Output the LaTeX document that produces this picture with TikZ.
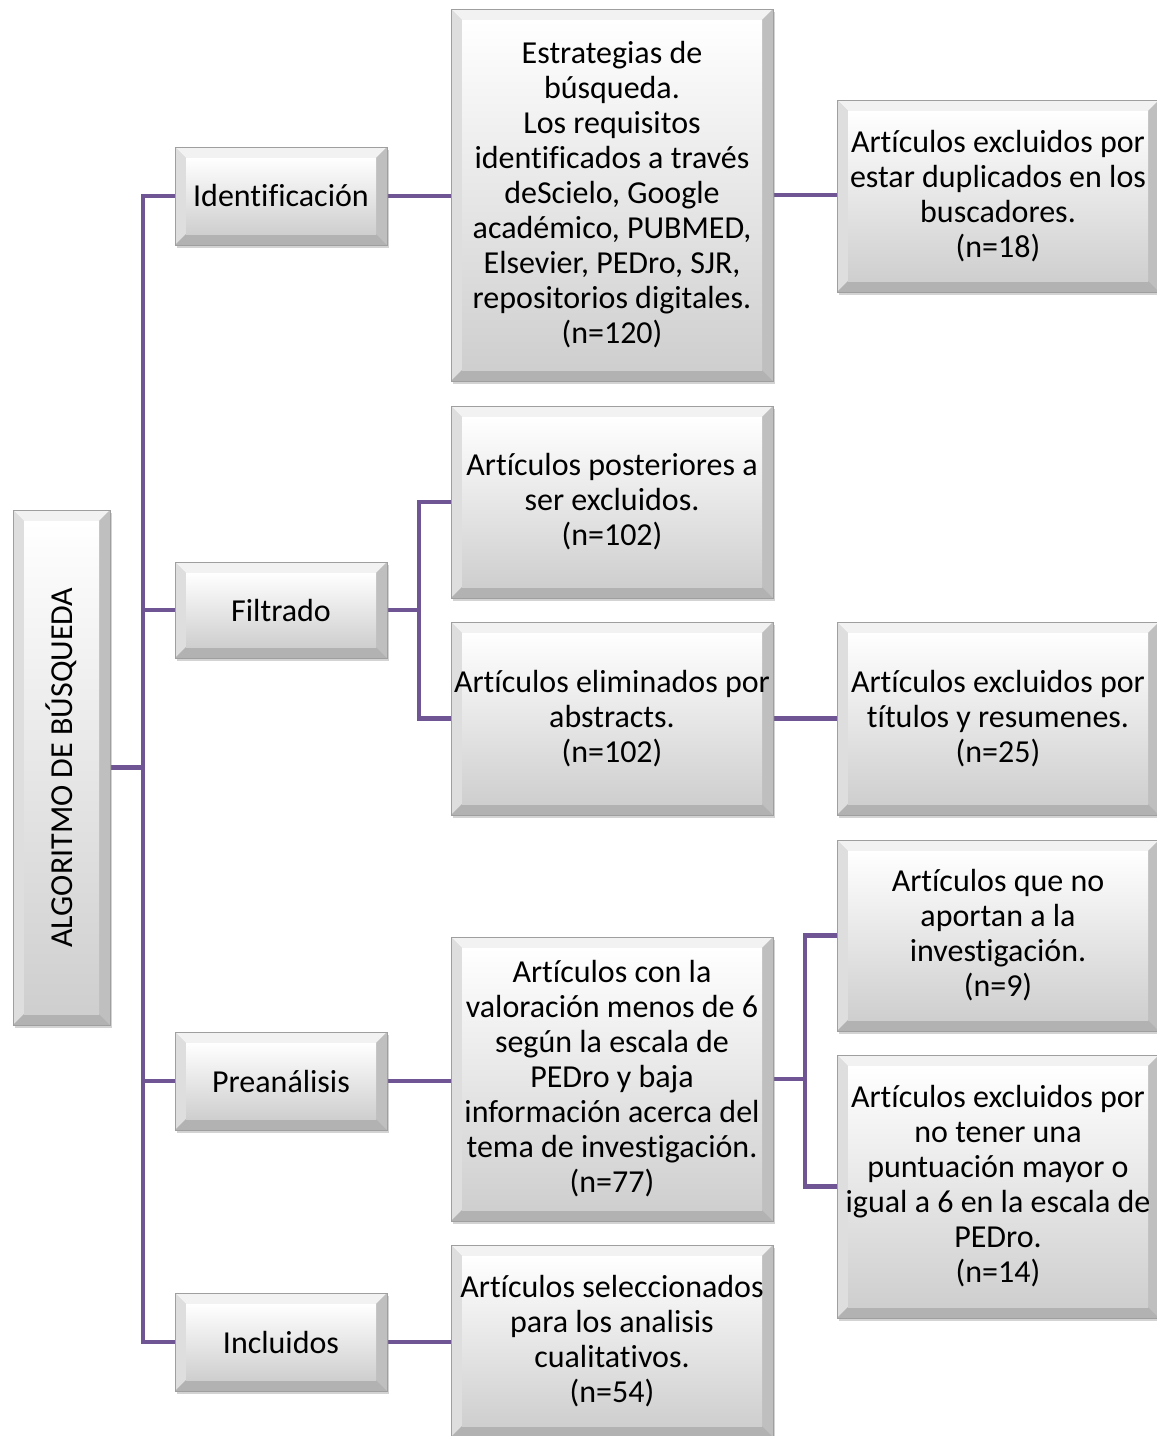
\documentclass[tikz,border=0pt]{standalone}
\usepackage{fontspec}
\setmainfont{Carlito}[Ligatures=NoCommon]
\usetikzlibrary{shadows,calc}
\pgfdeclarelayer{background}
\pgfsetlayers{background,main}
\definecolor{conncol}{RGB}{112,85,148}
\tikzset{
  txt/.style={font=\fontsize{32}{35}\selectfont, align=center},
  bx/.style={draw=gray!75, line width=0.7pt, fill=gray!45, inner sep=0pt, txt,
    drop shadow={shadow xshift=2pt, shadow yshift=-3pt, opacity=0.35, fill=gray},
    path picture={
      \path (path picture bounding box.south west) coordinate (@sw)
            (path picture bounding box.north east) coordinate (@ne);
      \path (@sw |- @ne) coordinate (@nw) (@ne |- @sw) coordinate (@se);
      \path (@sw) ++(11pt,11pt) coordinate (@isw)
            (@ne) ++(-11pt,-11pt) coordinate (@ine);
      \path (@isw |- @ine) coordinate (@inw) (@ine |- @isw) coordinate (@ise);
      \fill[gray!10] (@nw) -- (@ne) -- (@ine) -- (@inw) -- cycle;
      \fill[gray!26] (@sw) -- (@nw) -- (@inw) -- (@isw) -- cycle;
      \fill[gray!50] (@se) -- (@ne) -- (@ine) -- (@ise) -- cycle;
      \fill[gray!60] (@sw) -- (@se) -- (@ise) -- (@isw) -- cycle;
      \shade[top color=white, bottom color=gray!38] (@isw) rectangle (@ine);
    }},
  conn/.style={draw=conncol, line width=4.5pt, line join=miter}
}
\begin{document}
\begin{tikzpicture}[x=1pt,y=-1pt]
\useasboundingbox (0,0) rectangle (1157,1436);
% main
\node[bx, minimum width=97pt, minimum height=515pt] (main) at (61.5,767.5) {};
\node[txt, rotate=90, inner sep=0pt] (maintxt) at (main.center) {ALGORITMO DE BÚSQUEDA};
% level 1
\node[bx, minimum width=212pt, minimum height=98pt] (ident) at (281,196) {Identificación};
\node[bx, minimum width=212pt, minimum height=96pt] (filt) at (281,610) {Filtrado};
\node[bx, minimum width=212pt, minimum height=98pt] (pre) at (281,1081) {Preanálisis};
\node[bx, minimum width=212pt, minimum height=98pt] (incl) at (281,1342) {Incluidos};
% level 2
\node[bx, minimum width=322pt, minimum height=372pt] (estr) at (612,195) {Estrategias de\\búsqueda.\\Los requisitos\\identificados a través\\deScielo, Google\\académico, PUBMED,\\Elsevier, PEDro, SJR,\\repositorios digitales.\\(n=120)};
\node[bx, minimum width=322pt, minimum height=192pt] (post) at (612,502) {Artículos posteriores a\\ser excluidos.\\(n=102)};
\node[bx, minimum width=322pt, minimum height=193pt] (elim) at (612,718.5) {Artículos eliminados por\\abstracts.\\(n=102)};
\node[bx, minimum width=322pt, minimum height=284pt] (val) at (612,1079) {Artículos con la\\valoración menos de 6\\según la escala de\\PEDro y baja\\información acerca del\\tema de investigación.\\(n=77)};
\node[bx, minimum width=322pt, minimum height=192pt] (sel) at (612,1341) {Artículos seleccionados\\para los analisis\\cualitativos.\\(n=54)};
% level 3
\node[bx, minimum width=322pt, minimum height=192pt] (dup) at (998,196) {Artículos excluidos por\\estar duplicados en los\\buscadores.\\(n=18)};
\node[bx, minimum width=322pt, minimum height=193pt] (tit) at (998,718.5) {Artículos excluidos por\\títulos y resumenes.\\(n=25)};
\node[bx, minimum width=322pt, minimum height=191pt] (apor) at (998,935.5) {Artículos que no\\aportan a la\\investigación.\\(n=9)};
\node[bx, minimum width=322pt, minimum height=263pt] (punt) at (998,1186.5) {Artículos excluidos por\\no tener una\\puntuación mayor o\\igual a 6 en la escala de\\PEDro.\\(n=14)};
% connectors
\coordinate (tr) at (143,0);
\coordinate (fx) at (419,0);
\coordinate (px) at (805,0);
\begin{pgfonlayer}{background}
\draw[conn] (main.east) -- (main.east -| tr);
\draw[conn] (ident.west) -- (ident.west -| tr) -- (incl.west -| tr) -- (incl.west);
\draw[conn] (filt.west -| tr) -- (filt.west);
\draw[conn] (pre.west -| tr) -- (pre.west);
\draw[conn] (ident.east) -- (ident.east -| estr.west);
\draw[conn] (estr.east) -- (estr.east -| dup.west);
\draw[conn] (filt.east) -- (filt.east -| fx);
\draw[conn] (post.west) -- (post.west -| fx) -- (elim.west -| fx) -- (elim.west);
\draw[conn] (elim.east) -- (tit.west);
\draw[conn] (pre.east) -- (pre.east -| val.west);
\draw[conn] (val.east) -- (val.east -| px);
\draw[conn] (apor.west) -- (apor.west -| px) -- (punt.west -| px) -- (punt.west);
\draw[conn] (incl.east) -- (incl.east -| sel.west);
\end{pgfonlayer}
\end{tikzpicture}
\end{document}
